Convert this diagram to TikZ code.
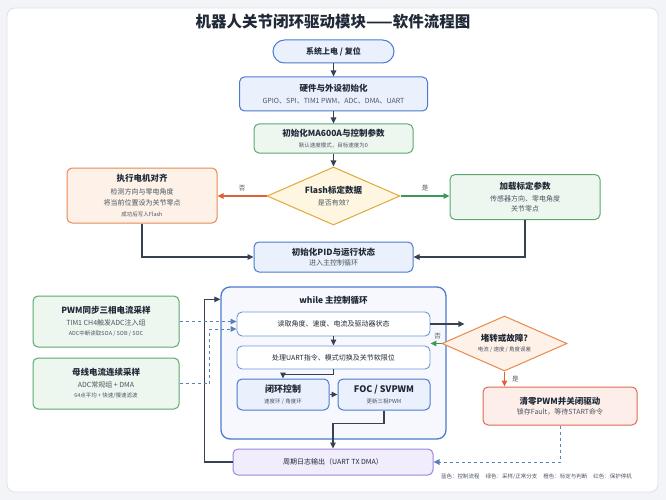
\documentclass[tikz,border=0pt]{standalone}
\usepackage{fontspec}
\setmainfont{Noto Sans CJK SC}
\usetikzlibrary{positioning,shapes.geometric,arrows.meta}

\definecolor{pagebg}{HTML}{F3F4F8}
\definecolor{panelln}{HTML}{DDE1EA}
\definecolor{inkdark}{HTML}{1F2937}
\definecolor{inksub}{HTML}{4B5563}
\definecolor{bluefill}{HTML}{EAF1FD}
\definecolor{blueln}{HTML}{4A7BD0}
\definecolor{loopfill}{HTML}{F6F8FD}
\definecolor{greenfill}{HTML}{EDF7EF}
\definecolor{greenln}{HTML}{5AAA6E}
\definecolor{orgfill}{HTML}{FDF1E8}
\definecolor{orgln}{HTML}{E8894E}
\definecolor{yelfill}{HTML}{FEF6E0}
\definecolor{yelln}{HTML}{E0A93A}
\definecolor{redfill}{HTML}{FDEEEA}
\definecolor{redln}{HTML}{E06A4E}
\definecolor{purfill}{HTML}{F1EDFC}
\definecolor{purln}{HTML}{9B86E0}
\definecolor{arrln}{HTML}{374151}
\definecolor{noarr}{HTML}{E0603A}
\definecolor{yesarr}{HTML}{3A9A55}
\definecolor{dasharr}{HTML}{5B7FB8}

\newcommand{\boxtitle}[1]{{\bfseries\fontsize{8.5}{11.5}\selectfont #1}}
\newcommand{\boxnote}[1]{{\fontsize{5.5}{10}\selectfont #1}}

\begin{document}
\begin{tikzpicture}[x=1pt, y=-1pt,
		every node/.style={text=inkdark, font=\fontsize{7}{11.5}\selectfont, align=center, inner sep=0pt},
		flowbox/.style={draw=blueln, fill=bluefill, line width=1pt, rounded corners=5pt},
		greenbox/.style={draw=greenln, fill=greenfill, line width=1pt, rounded corners=5pt},
		orgbox/.style={draw=orgln, fill=orgfill, line width=1pt, rounded corners=5pt},
		redbox/.style={draw=redln, fill=redfill, line width=1pt, rounded corners=5pt},
		logbox/.style={draw=purln, fill=purfill, line width=1pt, rounded corners=5pt},
		stepbox/.style={draw=blueln!80, fill=white, line width=0.9pt, rounded corners=5pt},
		decision/.style={diamond, aspect=2.3, line width=1pt},
		arr/.style={draw=arrln, line width=1.1pt, -{Triangle[length=6pt,width=5.5pt]}},
		dasharrow/.style={draw=dasharr, line width=0.9pt, dashed, -{Triangle[length=6pt,width=5.5pt]}},
		branch/.style={text=inksub, font=\fontsize{6.5}{8}\selectfont}]

	% page and panel
	\fill[pagebg] (0,0) rectangle (666,500);
	\draw[panelln, fill=white, line width=0.8pt, rounded corners=8pt] (7,8) rectangle (658,492);

	\node (title) at (333,22) {\bfseries\fontsize{15.5}{18}\selectfont 机器人关节闭环驱动模块——软件流程图};

	% initialisation
	\node[flowbox, rounded corners=11.5pt, minimum width=121pt, minimum height=23pt] (start) at (333.5,51.5)
		{\bfseries\fontsize{8}{10}\selectfont 系统上电 / 复位};
	\node[flowbox, minimum width=188pt, minimum height=34pt] (hwinit) at (333.5,94)
		{\boxtitle{硬件与外设初始化}\\ \textcolor{inksub}{GPIO、SPI、TIM1 PWM、ADC、DMA、UART}};
	\node[greenbox, minimum width=159pt, minimum height=29pt] (sensinit) at (333.5,138.5)
		{\boxtitle{初始化MA600A与控制参数}\\[-1pt] \textcolor{inksub}{\boxnote{默认速度模式，目标速度为0}}};
	\node[decision, draw=yelln, fill=yelfill, minimum width=133pt, minimum height=58pt] (flashchk) at (333.5,196)
		{\bfseries\fontsize{8.5}{11}\selectfont Flash标定数据\\ \textcolor{inksub}{是否有效?}};
	\node[orgbox, minimum width=150pt, minimum height=55pt] (align) at (142,195.5)
		{\boxtitle{执行电机对齐}\\[1pt] \textcolor{inksub}{检测方向与零电角度}\\ \textcolor{inksub}{将当前位置设为关节零点}\\[-1pt] \textcolor{inksub}{\boxnote{成功后写入Flash}}};
	\node[greenbox, minimum width=150pt, minimum height=45pt] (loadcal) at (525,197)
		{\boxtitle{加载标定参数}\\[1pt] \textcolor{inksub}{传感器方向、零电角度}\\[-1.5pt] \textcolor{inksub}{关节零点}};
	\node[flowbox, minimum width=159pt, minimum height=30pt] (pidinit) at (333.5,257)
		{\boxtitle{初始化PID与运行状态}\\[-1pt] \textcolor{inksub}{进入主控制循环}};

	\draw[arr] (start) -- (hwinit);
	\draw[arr] (hwinit) -- (sensinit);
	\draw[arr] (sensinit) -- (flashchk);
	\draw[arr, draw=noarr, -{Triangle[length=6pt,width=5.5pt]}] (flashchk.west) -- (flashchk.west -| align.east)
		node[branch, midway, above=4pt] {否};
	\draw[arr, draw=yesarr] (flashchk.east) -- (flashchk.east -| loadcal.west)
		node[branch, midway, above=4pt] {是};
	\draw[arr] (align.south) |- (pidinit.west);
	\draw[arr] (loadcal.south) |- (pidinit.east);

	% main loop
	\node[draw=blueln, fill=loopfill, line width=1.3pt, rounded corners=9pt, minimum width=225pt, minimum height=152pt] (loop) at (333.5,363) {};
	\node[below=10pt of loop.north] (looptitle) {\boxtitle{while 主控制循环}};
	\node[stepbox, minimum width=193pt, minimum height=24pt] (readst) at (333.5,324) {读取角度、速度、电流及驱动器状态};
	\node[stepbox, minimum width=193pt, minimum height=23pt] (proccmd) at (333.5,357.5) {处理UART指令、模式切换及关节软限位};
	\node[flowbox, minimum width=92pt, minimum height=31pt] (ctrl) at (283,394.5)
		{{\bfseries\fontsize{9}{11.5}\selectfont 闭环控制}\\[-1pt] \textcolor{inksub}{\boxnote{速度环 / 角度环}}};
	\node[flowbox, minimum width=92pt, minimum height=31pt] (foc) at (384,394.5)
		{{\bfseries\fontsize{9}{11.5}\selectfont FOC / SVPWM}\\[-1pt] \textcolor{inksub}{\boxnote{更新三相PWM}}};
	\node[logbox, minimum width=200pt, minimum height=26pt] (logout) at (333,462) {周期日志输出（UART TX DMA）};

	\draw[arr] (readst) -- (proccmd);
	\draw[arr] (proccmd.south) -- ([yshift=-5pt]proccmd.south) -| (ctrl.north);
	\draw[arr] (ctrl) -- (foc);
	\draw[arr] (foc.south) -- ++(0,13) -| (logout.north);
	\draw[arr] (logout.west) -- ++(-28,0) |- ([yshift=-13pt]loop.north west);

	% sampling
	\node[greenbox, minimum width=146pt, minimum height=51pt] (pwmsamp) at (106,321.5)
		{\boxtitle{PWM同步三相电流采样}\\ \textcolor{inksub}{TIM1 CH4触发ADC注入组}\\[-1pt] \textcolor{inksub}{\boxnote{ADC中断读取SOA / SOB / SOC}}};
	\node[greenbox, minimum width=146pt, minimum height=51pt] (bussamp) at (106,383.5)
		{\boxtitle{母线电流连续采样}\\ \textcolor{inksub}{ADC常规组 + DMA}\\[-1pt] \textcolor{inksub}{\boxnote{64点平均 + 快速/慢速滤波}}};
	\draw[dasharrow] (pwmsamp.east) -- (pwmsamp.east -| readst.west);
	\draw[dasharrow] (bussamp.east) -- ++(30,0) |- ([yshift=-5pt]readst.west);

	% protection
	\node[decision, draw=orgln, fill=orgfill, minimum width=125pt, minimum height=55pt] (faultchk) at (504.5,343.5)
		{\bfseries\fontsize{8.5}{11}\selectfont 堵转或故障?\\[-1pt] \textcolor{inksub}{\boxnote{电流 / 速度 / 角度误差}}};
	\node[redbox, minimum width=154pt, minimum height=38pt] (stopdrv) at (560,406)
		{\boxtitle{清零PWM并关闭驱动}\\[-1pt] \textcolor{inksub}{锁存Fault，等待START命令}};

	\draw[arr] (readst.east) -- ++(34,0);
	\draw[arr, draw=yesarr] (faultchk.west) -- (faultchk.west -| readst.east)
		node[branch, pos=0.35, above=4pt] {否};
	\draw[arr, draw=noarr] (faultchk.south) -- (faultchk.south |- stopdrv.north)
		node[branch, midway, right=7pt] {是};
	\draw[dasharrow] (stopdrv.south) |- (logout.east);

	% legend
	\node[anchor=east, text=inksub, font=\fontsize{5.5}{7}\selectfont] (legend) at (632,477)
		{蓝色：控制流程\hspace{6pt}绿色：采样/正常分支\hspace{6pt}橙色：标定与判断\hspace{6pt}红色：保护停机};
\end{tikzpicture}
\end{document}
